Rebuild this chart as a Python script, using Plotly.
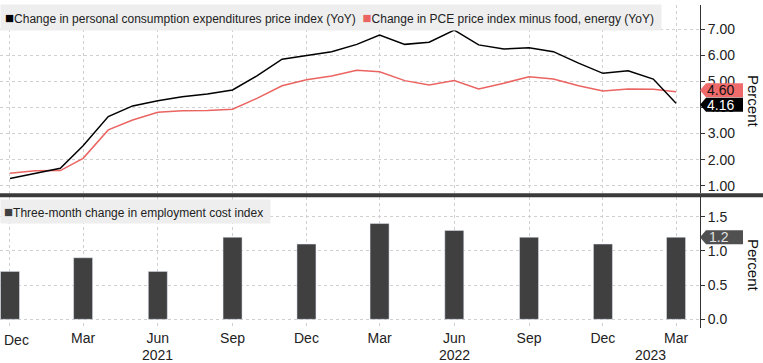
import plotly.graph_objects as go

# ---------------- data ----------------
months = ["2020-12-01", "2021-01-01", "2021-02-01", "2021-03-01", "2021-04-01", "2021-05-01",
          "2021-06-01", "2021-07-01", "2021-08-01", "2021-09-01", "2021-10-01", "2021-11-01",
          "2021-12-01", "2022-01-01", "2022-02-01", "2022-03-01", "2022-04-01", "2022-05-01",
          "2022-06-01", "2022-07-01", "2022-08-01", "2022-09-01", "2022-10-01", "2022-11-01",
          "2022-12-01", "2023-01-01", "2023-02-01", "2023-03-01"]
pce_headline = [1.28, 1.47, 1.67, 2.53, 3.65, 4.06, 4.26, 4.41, 4.52, 4.67, 5.21, 5.85,
                5.99, 6.14, 6.42, 6.78, 6.42, 6.50, 6.97, 6.40, 6.24, 6.29, 6.14, 5.70,
                5.31, 5.41, 5.09, 4.16]
pce_core = [1.48, 1.57, 1.58, 2.05, 3.14, 3.52, 3.82, 3.87, 3.88, 3.93, 4.35, 4.83,
            5.06, 5.21, 5.43, 5.37, 5.03, 4.86, 5.03, 4.71, 4.93, 5.18, 5.09, 4.83,
            4.63, 4.71, 4.70, 4.60]
quarters = ["2020-12-01", "2021-03-01", "2021-06-01", "2021-09-01", "2021-12-01",
            "2022-03-01", "2022-06-01", "2022-09-01", "2022-12-01", "2023-03-01"]
eci_change = [0.7, 0.9, 0.7, 1.2, 1.1, 1.4, 1.3, 1.2, 1.1, 1.2]
quarter_labels = ["Dec", "Mar", "Jun", "Sep", "Dec", "Mar", "Jun", "Sep", "Dec", "Mar"]
year_labels = ["2021", "2022", "2023"]
year_positions = ["2021-06-01", "2022-06-01", "2023-03-01"]

top_name = "Change in personal consumption expenditures price index (YoY)"
core_name = "Change in PCE price index minus food, energy (YoY)"
eci_name = "Three-month change in employment cost index"

BLACK = "#000000"
RED = "#ea6461"
BAR = "#404040"
GRID = "#d0d0d0"
AX = "#333333"
FONT = "Liberation Sans, Arial, sans-serif"

fig = go.Figure()
fig.add_trace(go.Scatter(x=months, y=pce_core, mode="lines", name=core_name,
                         line=dict(color=RED, width=1.5), xaxis="x", yaxis="y"))
fig.add_trace(go.Scatter(x=months, y=pce_headline, mode="lines", name=top_name,
                         line=dict(color=BLACK, width=1.5), xaxis="x", yaxis="y"))
fig.add_trace(go.Bar(x=quarters, y=eci_change, name=eci_name, marker_color=BAR,
                     width=23.4 * 86400000, xaxis="x2", yaxis="y2"))

H_PLOT = 328.0


def py(p):
    return (H_PLOT - p) / H_PLOT


# first label is drawn as an annotation (shifted right, as in the original)
shown_labels = [""] + quarter_labels[1:]

xrange = ["2020-11-18 17:00", "2023-03-30 12:00"]
common_x = dict(type="date", range=xrange, tickvals=quarters, showgrid=True,
                gridcolor=GRID, griddash="dot", gridwidth=1, zeroline=False,
                showline=False, ticks="")
fig.update_layout(
    width=763, height=363,
    margin=dict(l=0, r=63, t=0, b=35),
    paper_bgcolor="white", plot_bgcolor="white",
    showlegend=False,
    font=dict(family=FONT, color="#222222", size=14),
    xaxis=dict(**common_x, anchor="y", domain=[0, 1], showticklabels=False),
    xaxis2=dict(**common_x, anchor="y2", domain=[0, 1], matches="x",
                ticktext=shown_labels, showticklabels=True,
                tickfont=dict(size=14, color="#222222")),
    yaxis=dict(domain=[py(193), py(5)], range=[0.72, 7.93], side="right", anchor="x",
               tickvals=[1, 2, 3, 4, 5, 6, 7], tickformat=".2f",
               showgrid=True, gridcolor=GRID, griddash="dot", zeroline=False,
               showline=True, linecolor=AX, linewidth=1, ticks="outside", ticklen=4,
               tickcolor=AX, tickfont=dict(size=14, color="#222222")),
    yaxis2=dict(domain=[0, py(197)], range=[-0.127, 1.788], side="right", anchor="x2",
                tickvals=[0, 0.5, 1.0, 1.5], tickformat=".1f",
                showgrid=True, gridcolor=GRID, griddash="dot", zeroline=False,
                showline=True, linecolor=AX, linewidth=1, ticks="outside", ticklen=4,
                tickcolor=AX, tickfont=dict(size=14, color="#222222")),
)

shapes = []
# separator between panels
shapes.append(dict(type="line", xref="paper", yref="paper", x0=0, x1=763 / 700.0,
                   y0=py(195.3), y1=py(195.3), line=dict(color="#3a3a3a", width=4)))


def tag(yref, yval, color, dy):
    return dict(type="path", xref="paper", yref=yref, xsizemode="pixel", ysizemode="pixel",
                xanchor=1, yanchor=yval,
                path=f"M0,{dy} L6,{dy + 7} L43,{dy + 7} L43,{dy - 7} L6,{dy - 7} Z",
                fillcolor=color, line=dict(width=0), layer="above")


shapes.append(tag("y", pce_core[-1], "#ef6b6b", 1.5))
shapes.append(tag("y", pce_headline[-1], BLACK, -1.5))
shapes.append(tag("y2", eci_change[-1], "#505050", 0))
fig.update_layout(shapes=shapes)


def sq(color):
    return f"<span style='color:{color};font-size:15px'>■</span>"


ann = []
# legends
ann.append(dict(xref="paper", yref="paper", x=0, y=py(17.5), xanchor="left", yanchor="middle",
                showarrow=False, bgcolor="#eeeeee", borderpad=4,
                font=dict(size=12, color="#222222", family=FONT),
                text=f"{sq(BLACK)}{top_name}  {sq(RED)}{core_name} "))
ann.append(dict(xref="paper", yref="paper", x=0, y=py(211), xanchor="left", yanchor="middle",
                showarrow=False, bgcolor="#eeeeee", borderpad=3,
                font=dict(size=12, color="#222222", family=FONT),
                text=f"{sq(BAR)}{eci_name} "))
# value tags text
ann.append(dict(xref="paper", yref="y", x=1, y=pce_core[-1], xanchor="left", yanchor="middle",
                xshift=5, yshift=1.5, showarrow=False, text=f"{pce_core[-1]:.2f}",
                font=dict(size=14, color="#111111")))
ann.append(dict(xref="paper", yref="y", x=1, y=pce_headline[-1], xanchor="left", yanchor="middle",
                xshift=5, yshift=-1.5, showarrow=False, text=f"{pce_headline[-1]:.2f}",
                font=dict(size=14, color="white")))
ann.append(dict(xref="paper", yref="y2", x=1, y=eci_change[-1], xanchor="left", yanchor="middle",
                xshift=7, showarrow=False, text=f"{eci_change[-1]:.1f}",
                font=dict(size=14, color="#e0e0e0")))
# axis titles
for yc in (py(101), py(265)):
    ann.append(dict(xref="paper", yref="paper", x=754 / 700.0, y=yc, xanchor="center",
                    yanchor="middle", showarrow=False, text="Percent", textangle=90,
                    font=dict(size=15, color="#111111")))
# first month label (shifted so it stays inside the chart)
ann.append(dict(xref="x2", yref="paper", x=quarters[0], y=py(340), xanchor="center",
                yanchor="middle", xshift=7, showarrow=False, text=quarter_labels[0],
                font=dict(size=14, color="#222222")))
# years
for lbl, pos, shift in zip(year_labels, year_positions, [0, 0, -26]):
    ann.append(dict(xref="x2", yref="paper", x=pos, y=py(355), xanchor="center",
                    yanchor="middle", xshift=shift, showarrow=False, text=lbl,
                    font=dict(size=14, color="#222222")))
fig.update_layout(annotations=ann)

fig.write_html("out.html", post_script="document.body.style.margin='0';",
               config={"displayModeBar": False})
